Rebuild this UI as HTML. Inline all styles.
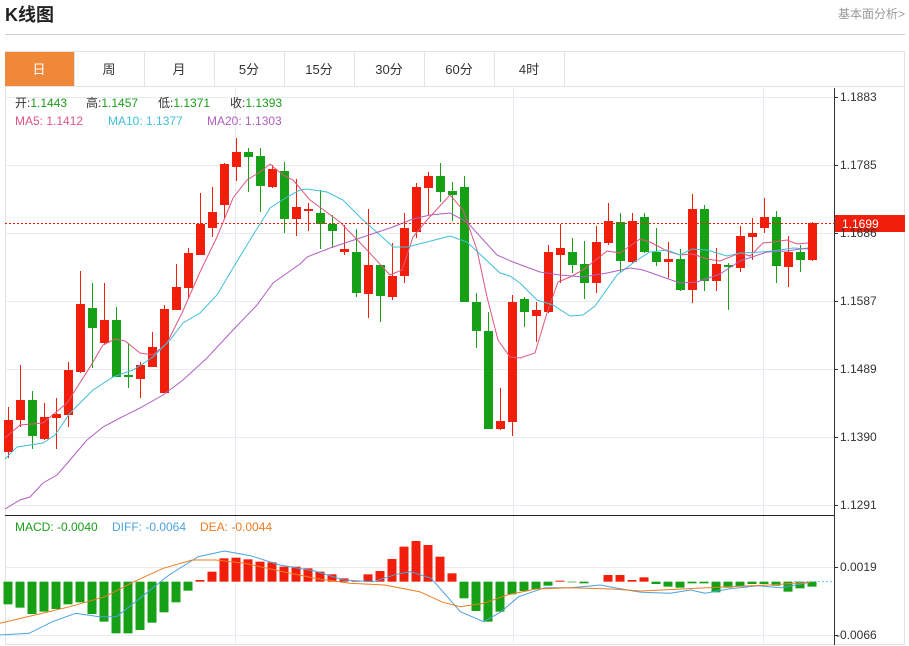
<!DOCTYPE html>
<html><head><meta charset="utf-8"><style>
body{margin:0;background:#fff;width:909px;height:646px;overflow:hidden;font-family:"Liberation Sans","Noto Sans CJK SC",sans-serif}
svg{display:block}
</style></head><body>
<svg id="s" width="909" height="646" xmlns="http://www.w3.org/2000/svg" font-family="Liberation Sans, Noto Sans CJK SC, sans-serif">
<text x="5" y="21" font-size="18" font-weight="bold" fill="#222">K线图</text>
<text x="838" y="18" font-size="12" fill="#999">基本面分析&gt;</text>
<line x1="5" y1="34.5" x2="905" y2="34.5" stroke="#ccc"/>
<rect x="5.5" y="51.5" width="899" height="593" fill="none" stroke="#e3e3e3"/>
<line x1="5" y1="86.5" x2="905" y2="86.5" stroke="#e3e3e3"/>
<rect x="5" y="52" width="69" height="34" fill="#f0883a"/>
<g font-size="13" fill="#333" text-anchor="middle">
<text x="39" y="74" fill="#fff">日</text><text x="109" y="74">周</text><text x="179" y="74">月</text><text x="249" y="74">5分</text><text x="319" y="74">15分</text><text x="389" y="74">30分</text><text x="459" y="74">60分</text><text x="529" y="74">4时</text>
</g>
<g stroke="#e3e3e3"><line x1="74.5" y1="52" x2="74.5" y2="86"/><line x1="144.5" y1="52" x2="144.5" y2="86"/><line x1="214.5" y1="52" x2="214.5" y2="86"/><line x1="284.5" y1="52" x2="284.5" y2="86"/><line x1="354.5" y1="52" x2="354.5" y2="86"/><line x1="424.5" y1="52" x2="424.5" y2="86"/><line x1="494.5" y1="52" x2="494.5" y2="86"/><line x1="564.5" y1="52" x2="564.5" y2="86"/></g>
<g id="grid" stroke="#e6ecf2"></g>
<g id="main"></g>
<line x1="834.5" y1="88" x2="834.5" y2="645" stroke="#333"/>
<line x1="5" y1="515.5" x2="834" y2="515.5" stroke="#222"/>
<g id="ticks" font-size="12" fill="#333"></g>
<g font-size="12">
<text x="15" y="107" fill="#333">开:<tspan fill="#1a9e1a">1.1443</tspan></text>
<text x="86" y="107" fill="#333">高:<tspan fill="#1a9e1a">1.1457</tspan></text>
<text x="158" y="107" fill="#333">低:<tspan fill="#1a9e1a">1.1371</tspan></text>
<text x="230" y="107" fill="#333">收:<tspan fill="#1a9e1a">1.1393</tspan></text>
<text x="15" y="125" fill="#e0567f">MA5: 1.1412</text>
<text x="108" y="125" fill="#3fbfd8">MA10: 1.1377</text>
<text x="207" y="125" fill="#b060c0">MA20: 1.1303</text>
<text x="15" y="531" fill="#1a9e1a">MACD: -0.0040</text>
<text x="112" y="531" fill="#4aa3df">DIFF: -0.0064</text>
<text x="200" y="531" fill="#f07c21">DEA: -0.0044</text>
</g>
</svg>
<script>
var NS="http://www.w3.org/2000/svg";
function el(p,t,a,txt){var e=document.createElementNS(NS,t);for(var k in a)e.setAttribute(k,a[k]);if(txt)e.textContent=txt;document.getElementById(p).appendChild(e);return e;}
[97,165,233,301,369,437,505].forEach(function(y){el("grid","line",{x1:5,x2:834,y1:y+.5,y2:y+.5});});
[567,635].forEach(function(y){el("grid","line",{x1:5,x2:834,y1:y+.5,y2:y+.5});});
[235,513,763].forEach(function(x){el("grid","line",{x1:x+.5,x2:x+.5,y1:88,y2:645});});
var tk=[[97,"1.1883"],[165,"1.1785"],[233,"1.1686"],[301,"1.1587"],[369,"1.1489"],[437,"1.1390"],[505,"1.1291"],[567,"0.0019"],[635,"-0.0066"]];
tk.forEach(function(t){el("ticks","line",{x1:834,x2:838,y1:t[0]+.5,y2:t[0]+.5,stroke:"#333"});el("ticks","text",{x:t[1][0]=="-"?836:840,y:t[0]+4},t[1]);});
var C=[[420,452,407,458,1],[400,420,365,427,1],[400,436,391,449,0],[417,439,403,440,1],[414,418,398,449,1],[370,415,362,427,1],[304,372,271,373,1],[308,328,283,368,0],[320,343,283,345,1],[320,377,307,377,0],[375,377,343,388,0],[365,379,362,398,1],[347,367,332,367,1],[309,393,305,393,1],[287,310,264,310,1],[253,288,248,299,1],[224,255,193,255,1],[212,228,187,237,1],[164,205,163,218,1],[152,167,138,181,1],[152,157,148,192,0],[156,186,148,212,0],[169,187,165,188,1],[171,219,162,233,0],[207,219,179,236,1],[209,211,203,231,1],[213,224,190,249,0],[224,231,215,248,0],[249,252,225,255,1],[252,293,229,297,0],[265,294,209,318,1],[265,296,265,322,0],[276,297,243,300,1],[228,276,213,283,1],[187,232,183,238,1],[176,188,172,215,1],[176,192,163,202,0],[191,195,182,221,0],[187,302,176,302,0],[302,331,293,348,0],[331,429,312,429,0],[421,429,388,430,1],[302,422,295,436,1],[299,312,297,327,0],[310,316,302,342,1],[252,312,245,313,1],[248,255,224,283,1],[252,265,238,273,0],[264,283,241,299,0],[242,283,226,293,1],[221,243,203,245,1],[222,261,213,272,0],[221,262,213,263,1],[217,252,213,253,0],[252,262,228,266,0],[259,262,242,278,1],[259,290,249,291,0],[209,290,194,303,1],[209,281,205,291,0],[264,281,248,291,1],[265,267,263,310,0],[236,268,226,272,1],[233,237,218,260,1],[217,228,198,233,1],[217,266,211,283,0],[252,267,236,287,1],[252,260,245,272,0],[223,260,222,261,1]];
C.forEach(function(c,i){var x=8+12*i,col=c[4]?"#f01e0a":"#16a016";
el("main","line",{x1:x+.5,x2:x+.5,y1:c[2],y2:c[3],stroke:col});
el("main","rect",{x:x-4,y:c[0],width:9,height:Math.max(1.5,c[1]-c[0]),fill:col});});
function pl(pts,col,w){el("main","polyline",{points:pts,fill:"none",stroke:col,"stroke-width":w||1});}
pl("5,438 20,425 43,423 67,403 90,367 103,345 115,339 125,341 140,353 153,355 167,343 182,313 200,272 217,237 233,198 247,180 260,172 270,164 283,175 293,180 310,200 340,222 367,250 390,275 402,270 413,237 427,220 450,195 463,210 477,250 487,297 498,340 510,357 520,358 535,353 547,313 558,282 570,277 583,270 607,251 620,253 640,239 650,242 667,251 680,255 693,254 707,259 720,261 740,253 750,256 763,243 773,242 787,240 797,244 808,243","#e0567f");
pl("5,459 17,447 43,443 55,435 70,413 93,390 113,377 133,370 153,357 170,340 183,323 200,313 217,295 233,268 250,240 270,208 287,197 300,190 307,189 327,192 343,200 363,220 380,235 393,247 407,247 427,242 450,236 467,242 483,257 500,273 510,276 520,283 537,300 553,305 570,316 583,315 595,306 617,275 637,260 650,252 667,250 680,255 692,249 707,250 727,256 740,253 760,252 773,251 793,248 808,249","#3fbfd8");
pl("5,509 20,500 30,497 43,483 57,475 70,460 87,440 103,427 120,418 140,408 163,395 183,380 207,358 233,330 257,305 273,283 300,264 307,257 330,248 363,237 390,228 413,219 430,215 450,213 467,222 497,255 513,262 540,272 560,275 583,277 607,273 630,268 643,270 680,283 697,282 720,274 740,261 767,252 787,251 808,248","#b060c0");
el("main","line",{x1:5,x2:834,y1:223.5,y2:223.5,stroke:"#f01e0a","stroke-dasharray":"2,2"});
el("main","rect",{x:835,y:215,width:70,height:17,fill:"#f01e0a"});
el("main","text",{x:842,y:228,"font-size":12,fill:"#fff"},"1.1699");
var M=[268,278,297,290,282,268,262,297,320,355,355,345,323,292,262,227,195,170,130,128,133,140,142,155,155,160,170,178,190,197,178,168,132,95,78,90,125,175,250,288,320,290,238,228,222,212,197,202,205,200,180,180,195,187,207,215,218,205,205,232,218,213,207,207,212,230,220,215];
var z0=515+200/3;
M.forEach(function(v,i){var x=8+12*i,y=515+v/3,col=v<200?"#f01e0a":"#16a016";
if(Math.abs(v-200)<1)return;
el("main","rect",{x:x-4.5,y:Math.min(y,z0),width:9,height:Math.abs(y-z0),fill:col});});
el("main","line",{x1:790,x2:834,y1:z0,y2:z0,stroke:"#6cc","stroke-dasharray":"2,2"});
function mp(a){var s=[];for(var i=0;i<a.length;i+=2)s.push((a[i]/1.716).toFixed(1)+","+(515+a[i+1]/3).toFixed(1));return s.join(" ");}
pl(mp([0,360,50,355,90,320,130,295,170,305,200,305,240,250,290,180,340,125,385,108,430,122,480,150,540,168,590,195,640,200,680,178,705,170,740,190,790,290,830,320,860,290,890,245,935,218,980,218,1030,210,1060,220,1100,232,1150,235,1185,225,1210,235,1250,222,1300,212,1340,218,1390,202]),"#4aa3df");
pl(mp([0,325,60,300,120,275,180,245,230,200,280,160,330,135,370,135,420,145,480,168,540,190,600,205,660,210,720,230,760,262,790,275,830,265,870,240,920,222,980,218,1050,222,1100,228,1170,222,1250,215,1320,210,1390,202]),"#f07c21");
</script>
</body></html>
